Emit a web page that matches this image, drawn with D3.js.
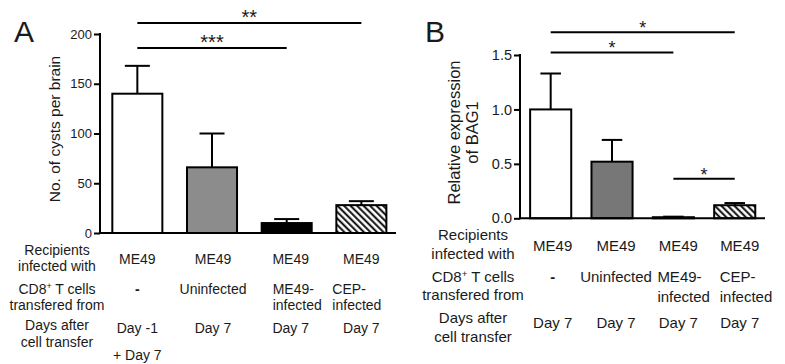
<!DOCTYPE html>
<html>
<head>
<meta charset="utf-8">
<script src="https://cdn.jsdelivr.net/npm/d3@7"></script>
<style>
  body { margin: 0; background: #fff; }
  svg { font-family: Arial, "Liberation Sans", sans-serif; }
  text { fill: #1a1a1a; }
</style>
</head>
<body>
<div id="chart"></div>
<script>
// groups (same order in both panels)
var groups = ["none", "uninfected", "me49", "cep"];

// panel A: cysts per brain, mean + upper SEM
var cystsMean = [140, 66, 10, 28];
var cystsErr = [168, 100, 14, 32];
var cystsTicks = [0, 50, 100, 150, 200];

// panel B: relative BAG1 expression
var bagMean = [1.0, 0.52, 0.01, 0.12];
var bagErr = [1.33, 0.72, 0.015, 0.14];
var bagTicks = [0, 0.5, 1.0, 1.5];

// significance bars: [from, to, level, stars]
var sigA = [[0, 2, 186, "***"], [0, 3, 211, "**"]];
var sigB = [[0, 2, 1.524, "*"], [0, 3, 1.708, "*"], [2, 3, 0.364, "*"]];

// table under the bars
var rowLabels = [["Recipients", "infected with"], ["CD8+ T cells", "transfered from"], ["Days after", "cell transfer"]];
var recipients = ["ME49", "ME49", "ME49", "ME49"];
var cellsFrom = [["-"], ["Uninfected"], ["ME49-", "infected"], ["CEP-", "infected"]];
var daysA = [["Day -1", "+ Day 7"], ["Day 7"], ["Day 7"], ["Day 7"]];
var daysB = [["Day 7"], ["Day 7"], ["Day 7"], ["Day 7"]];

var fills = ["#ffffff", null, "#000000", "url(#hatch)"];

var svg = d3.select("#chart").append("svg")
  .attr("width", 785)
  .attr("height", 364);

// diagonal hatch
var pat = svg.append("defs").append("pattern")
  .attr("id", "hatch")
  .attr("patternUnits", "userSpaceOnUse")
  .attr("width", 4.6)
  .attr("height", 4.6)
  .attr("patternTransform", "rotate(-45)");
pat.append("rect").attr("width", 4.6).attr("height", 4.6).attr("fill", "#fff");
pat.append("line")
  .attr("x1", 1.2).attr("y1", 0).attr("x2", 1.2).attr("y2", 4.6)
  .attr("stroke", "#000").attr("stroke-width", 1.9);

drawPanel({
  letter: "A", letterX: 14,
  mean: cystsMean, err: cystsErr, ticks: cystsTicks, tickFmt: d3.format("d"),
  sig: sigA, starSize: 20, starDy: 1,
  y0: 233, y1: 34, yMax: 200,
  xRange: [100, 398.7], axisEnd: 396,
  grey: "#8c8c8c", fontSize: 14, tickSize: 13,
  yLabel: ["No. of cysts per brain"], yLabelX: [60], yLabelY: 129,
  rowLabelX: 57,
  valueShift: [0, 1, 4, 0],
  leftAlign: [null, null, -14, -29],
  rows: [
    { label: [254.5, 270.5], value: [263.5], data: recipients },
    { label: [293.5, 309.5], value: [293.5, 310], data: cellsFrom },
    { label: [329.5, 346.5], value: [333, 359.5], data: daysA }
  ]
});

drawPanel({
  letter: "B", letterX: 425,
  mean: bagMean, err: bagErr, ticks: bagTicks, tickFmt: d3.format(".1f"),
  sig: sigB, starSize: 18, starDy: 2,
  y0: 218.3, y1: 55, yMax: 1.5,
  xRange: [520, 765.4], axisEnd: 765,
  grey: "#777777", fontSize: 15, tickSize: 14.5,
  yLabel: ["Relative expression", "of BAG1"], yLabelX: [460, 478], yLabelY: 132.5,
  rowLabelX: 473,
  valueShift: [2, 4, 5, 5],
  leftAlign: [null, null, -16, -15],
  rows: [
    { label: [239.5, 258.5], value: [251], data: recipients },
    { label: [282, 300], value: [282, 301.5], data: cellsFrom },
    { label: [323, 341.5], value: [328, 346], data: daysB }
  ]
});

function drawPanel(p) {
  var g = svg.append("g");

  var x = d3.scaleBand()
    .domain(d3.range(groups.length))
    .range(p.xRange)
    .paddingInner(0.33)
    .paddingOuter(0.165);

  var y = d3.scaleLinear()
    .domain([0, p.yMax])
    .range([p.y0, p.y1]);

  var cx = function(i) { return x(i) + x.bandwidth() / 2; };

  // y axis
  var yAxis = d3.axisLeft(y)
    .tickValues(p.ticks)
    .tickFormat(p.tickFmt)
    .tickSize(6)
    .tickPadding(2);

  var ax = g.append("g")
    .attr("transform", "translate(" + p.xRange[0] + ",0)")
    .call(yAxis);
  ax.select(".domain").remove();
  ax.selectAll(".tick line").attr("stroke", "#000").attr("stroke-width", 2);
  ax.selectAll(".tick text")
    .style("font-size", p.tickSize + "px")
    .style("font-family", "Arial, 'Liberation Sans', sans-serif")
    .attr("fill", "#1a1a1a");

  g.append("line")
    .attr("x1", p.xRange[0]).attr("x2", p.xRange[0])
    .attr("y1", y(p.yMax) - 1).attr("y2", p.y0 + 1)
    .attr("stroke", "#000").attr("stroke-width", 2);

  // error bars (upper only)
  var cap = x.bandwidth() * 0.5;
  var eb = g.selectAll(".err").data(p.err).enter().append("g");
  eb.append("line")
    .attr("x1", function(d, i) { return cx(i); })
    .attr("x2", function(d, i) { return cx(i); })
    .attr("y1", function(d, i) { return y(p.mean[i]); })
    .attr("y2", function(d) { return y(d); })
    .attr("stroke", "#000").attr("stroke-width", 2);
  eb.append("line")
    .attr("x1", function(d, i) { return cx(i) - cap / 2; })
    .attr("x2", function(d, i) { return cx(i) + cap / 2; })
    .attr("y1", function(d) { return y(d); })
    .attr("y2", function(d) { return y(d); })
    .attr("stroke", "#000").attr("stroke-width", 2);

  // bars
  g.selectAll(".bar").data(p.mean).enter().append("rect")
    .attr("x", function(d, i) { return x(i); })
    .attr("y", function(d) { return y(d); })
    .attr("width", x.bandwidth())
    .attr("height", function(d) { return y(0) - y(d); })
    .attr("fill", function(d, i) { return fills[i] || p.grey; })
    .attr("stroke", "#000")
    .attr("stroke-width", 2);

  // x axis line
  g.append("line")
    .attr("x1", p.xRange[0] - 1).attr("x2", p.axisEnd)
    .attr("y1", p.y0).attr("y2", p.y0)
    .attr("stroke", "#000").attr("stroke-width", 2);

  // significance
  p.sig.forEach(function(s) {
    var xa = cx(s[0]), xb = cx(s[1]);
    g.append("line")
      .attr("x1", xa).attr("x2", xb)
      .attr("y1", y(s[2])).attr("y2", y(s[2]))
      .attr("stroke", "#000").attr("stroke-width", 2);
    g.append("text")
      .attr("x", (xa + xb) / 2)
      .attr("y", y(s[2]) + p.starDy)
      .attr("text-anchor", "middle")
      .style("font-size", p.starSize + "px")
      .text(s[3]);
  });

  // panel letter
  g.append("text")
    .attr("x", p.letterX).attr("y", 42)
    .style("font-size", "30px")
    .text(p.letter);

  // y label
  p.yLabel.forEach(function(t, k) {
    g.append("text")
      .attr("transform", "translate(" + p.yLabelX[k] + "," + p.yLabelY + ") rotate(-90)")
      .attr("text-anchor", "middle")
      .style("font-size", (p.fontSize + 1.5) + "px")
      .text(t);
  });

  // table
  p.rows.forEach(function(row, r) {
    rowLabels[r].forEach(function(t, k) {
      var tx = g.append("text")
        .attr("x", p.rowLabelX).attr("y", row.label[k])
        .attr("text-anchor", "middle")
        .style("font-size", p.fontSize + "px");
      if (t.indexOf("CD8+") === 0) {
        tx.append("tspan").text("CD8");
        tx.append("tspan").attr("dy", -5).style("font-size", (p.fontSize * 0.65) + "px").text("+");
        tx.append("tspan").attr("dy", 5).text(" T cells");
      } else {
        tx.text(t);
      }
    });
    row.data.forEach(function(v, i) {
      var lines = Array.isArray(v) ? v : [v];
      var left = lines.length > 1 && p.leftAlign[i] !== null && r === 1;
      lines.forEach(function(t, k) {
        g.append("text")
          .attr("x", left ? cx(i) + p.leftAlign[i] : cx(i) + p.valueShift[i])
          .attr("y", row.value[k])
          .attr("text-anchor", left ? "start" : "middle")
          .style("font-size", p.fontSize + "px")
          .style("font-weight", t === "-" ? "bold" : null)
          .text(t);
      });
    });
  });
}
</script>
</body>
</html>
